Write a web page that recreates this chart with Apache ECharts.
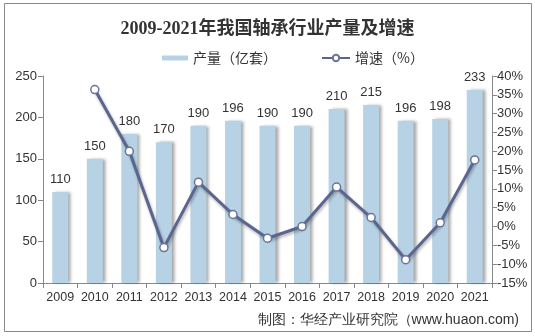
<!DOCTYPE html>
<html><head><meta charset="utf-8">
<script src="https://cdn.jsdelivr.net/npm/echarts@6/dist/echarts.min.js"></script>
<style>html,body{margin:0;padding:0;background:#fff}#c{width:535px;height:336px}</style>
</head><body><div id="c"></div>
<script>
var years = ['2009','2010','2011','2012','2013','2014','2015','2016','2017','2018','2019','2020','2021'];
var output = [110,150,180,170,190,196,190,190,210,215,196,198,233];
var growth = [null,36.4,20.0,-5.6,11.8,3.2,-3.1,0.0,10.5,2.4,-8.8,1.0,17.7];
var leftTicks = {min:0, max:250, interval:50};
var rightTicks = {min:-15, max:40, interval:5};

var chart = echarts.init(document.getElementById('c'));
var sansCJK = '"Noto Sans CJK SC", sans-serif';
var labelFont = 'Liberation Sans, Arial, sans-serif';
chart.setOption({
  animation:false,
  backgroundColor:'#fff',
  title:{text:'2009-2021年我国轴承行业产量及增速', left:'center', top:15,
    textStyle:{fontSize:18, fontWeight:'bold', color:'#333', fontFamily:'"Liberation Serif", "Noto Sans CJK SC", serif'}},
  legend:[
    {data:[{name:'产量（亿套）', icon:'rect'}], left:157, top:46, itemWidth:26, itemHeight:5, itemGap:4,
     textStyle:{fontSize:14, color:'#333', fontFamily:sansCJK}},
    {data:[{name:'增速（%）'}], left:316, top:46, itemWidth:28, itemHeight:8,
     textStyle:{fontSize:14, color:'#333', fontFamily:sansCJK}}
  ],
  grid:{left:43, right:43, top:76, bottom:53},
  xAxis:{type:'category', data:years,
    axisLine:{lineStyle:{color:'#888'}},
    axisTick:{show:true, interval:0, alignWithLabel:false, lineStyle:{color:'#888'}},
    axisLabel:{interval:0, fontSize:12.5, color:'#333', margin:8, fontFamily:labelFont}},
  yAxis:[
    {type:'value', min:leftTicks.min, max:leftTicks.max, interval:leftTicks.interval,
     splitLine:{show:false}, axisLine:{show:true, lineStyle:{color:'#888'}},
     axisTick:{show:true, lineStyle:{color:'#888'}},
     axisLabel:{fontSize:13, color:'#333', margin:6, fontFamily:labelFont}},
    {type:'value', min:rightTicks.min, max:rightTicks.max, interval:rightTicks.interval,
     splitLine:{show:false}, axisLine:{show:true, lineStyle:{color:'#888'}},
     axisTick:{show:true, lineStyle:{color:'#888'}},
     axisLabel:{fontSize:13, color:'#333', margin:5, formatter:'{value}%', fontFamily:labelFont}}
  ],
  series:[
    {name:'产量（亿套）', type:'bar', data:output, barWidth:16,
     itemStyle:{color:'#b6d2e4', shadowColor:'rgba(0,0,0,0.35)', shadowOffsetX:3, shadowOffsetY:0, shadowBlur:3},
     label:{show:true, position:'top', fontSize:13, color:'#333', distance:6, fontFamily:labelFont}},
    {name:'增速（%）', type:'line', yAxisIndex:1, data:growth, connectNulls:false,
     symbol:'circle', symbolSize:8, showAllSymbol:true,
     lineStyle:{color:'#5a6590', width:3, shadowColor:'rgba(0,0,0,0.3)', shadowBlur:3, shadowOffsetX:1, shadowOffsetY:2},
     itemStyle:{color:'#fff', borderColor:'#6b7398', borderWidth:1.5}}
  ],
  graphic:[
    {type:'rect', shape:{x:4.5, y:3.5, width:527, height:328}, style:{fill:null, stroke:'#888', lineWidth:1}, silent:true},
    {type:'text', right:16, top:313, style:{text:'制图：华经产业研究院（www.huaon.com)', fontSize:14, fill:'#333', font:'14px "Noto Sans CJK SC", sans-serif'}}
  ]
});
</script></body></html>
